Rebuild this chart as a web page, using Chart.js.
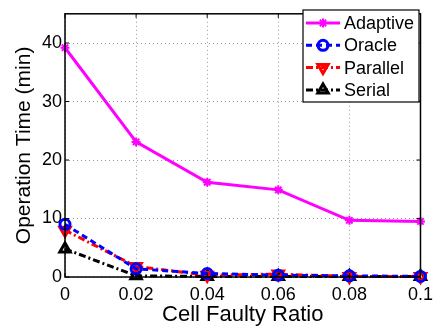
<!DOCTYPE html>
<html><head><meta charset="utf-8">
<script src="https://cdn.jsdelivr.net/npm/chart.js@4/dist/chart.umd.min.js"></script>
<style>html,body{margin:0;padding:0;background:#fff}#wrap{width:440px;height:328px}</style>
</head><body><div id="wrap"><canvas id="c" width="440" height="328"></canvas></div>
<script>
const ratios = [0, 0.02, 0.04, 0.06, 0.08, 0.1];
const adaptive = [39.2, 23.1, 16.2, 14.9, 9.7, 9.5];
const oracle = [9.0, 1.4, 0.6, 0.3, 0.2, 0.1];
const parallel = [8.0, 1.8, 0.3, 0.5, 0.1, 0.1];
const serial = [4.8, 0.2, 0.1, 0.1, 0.1, 0.1];
const seriesNames = ['Adaptive', 'Oracle', 'Parallel', 'Serial'];
const xTicks = [0, 0.02, 0.04, 0.06, 0.08, 0.1];
const yTicks = [0, 10, 20, 30, 40];

const FONT = '"Liberation Sans", Arial, Helvetica, sans-serif';
const pts = a => a.map((v, i) => ({x: ratios[i], y: v}));

const styles = [
  {color: '#ff00ff', dash: [], point: 'star', rot: 0, radius: 4.5, pw: 2},
  {color: '#0000ff', dash: [6, 4], point: 'circle', rot: 0, radius: 5, pw: 3},
  {color: '#ff0000', dash: [7, 3, 2, 3], point: 'triangle', rot: 180, radius: 6, pw: 3},
  {color: '#000000', dash: [7, 3, 2, 3], point: 'triangle', rot: 0, radius: 6, pw: 3}
];
const data = [adaptive, oracle, parallel, serial];

const datasets = data.map((d, i) => ({
  label: seriesNames[i],
  data: pts(d),
  borderColor: styles[i].color,
  backgroundColor: 'rgba(255,255,255,0)',
  borderWidth: 3,
  borderDash: styles[i].dash,
  pointStyle: styles[i].point,
  pointRotation: styles[i].rot,
  pointRadius: styles[i].radius,
  pointBorderWidth: styles[i].pw,
  pointBorderColor: styles[i].color,
  pointBackgroundColor: 'rgba(255,255,255,0)',
  tension: 0,
  clip: false,
  order: i
}));

const framePlugin = {
  id: 'frame',
  afterDatasetsDraw(chart) {
    const {ctx, chartArea: a, scales} = chart;
    ctx.save();
    ctx.strokeStyle = '#000';
    ctx.lineWidth = 1.5;
    ctx.setLineDash([]);
    ctx.strokeRect(a.left, a.top, a.right - a.left, a.bottom - a.top);
    ctx.lineWidth = 1;
    const tl = 4;
    xTicks.forEach(v => {
      const x = scales.x.getPixelForValue(v);
      ctx.beginPath();
      ctx.moveTo(x, a.bottom); ctx.lineTo(x, a.bottom - tl);
      ctx.moveTo(x, a.top); ctx.lineTo(x, a.top + tl);
      ctx.stroke();
    });
    yTicks.forEach(v => {
      const y = scales.y.getPixelForValue(v);
      ctx.beginPath();
      ctx.moveTo(a.left, y); ctx.lineTo(a.left + tl, y);
      ctx.moveTo(a.right, y); ctx.lineTo(a.right - tl, y);
      ctx.stroke();
    });
    // legend
    const lx = 303, ly = 10, lw = 116, lh = 92;
    ctx.fillStyle = '#fff';
    ctx.fillRect(lx, ly, lw, lh);
    ctx.strokeStyle = '#000';
    ctx.lineWidth = 1.2;
    ctx.strokeRect(lx, ly, lw, lh);
    ctx.font = '18px ' + FONT;
    ctx.textBaseline = 'middle';
    ctx.textAlign = 'left';
    seriesNames.forEach((n, i) => {
      const y = ly + 13 + i * 22.3;
      const s = styles[i];
      ctx.strokeStyle = s.color;
      ctx.lineWidth = 3;
      ctx.setLineDash(s.dash);
      ctx.beginPath();
      ctx.moveTo(lx + 3, y); ctx.lineTo(lx + 37, y);
      ctx.stroke();
      ctx.setLineDash([]);
      ctx.lineWidth = s.pw;
      ctx.fillStyle = 'rgba(255,255,255,0)';
      Chart.helpers.drawPoint(ctx, {pointStyle: s.point, rotation: s.rot, radius: s.radius, borderWidth: s.pw}, lx + 20, y);
      ctx.fillStyle = '#000';
      ctx.fillText(n, lx + 41, y + 1);
    });
    ctx.restore();
  }
};

new Chart(document.getElementById('c'), {
  type: 'line',
  data: {datasets},
  plugins: [framePlugin],
  options: {
    responsive: false,
    animation: false,
    layout: {padding: {top: 5, right: 15, left: 0, bottom: 0}},
    plugins: {legend: {display: false}, tooltip: {enabled: false}},
    scales: {
      x: {
        type: 'linear', min: 0, max: 0.1,
        afterBuildTicks: s => { s.ticks = xTicks.map(v => ({value: v})); },
        afterFit: s => { s.height = 51; },
        grid: {color: '#999', lineWidth: 1, drawTicks: false},
        border: {display: false, dash: [1, 3]},
        ticks: {color: '#000', font: {family: FONT, size: 18}, padding: 7, maxRotation: 0,
          callback: v => String(+v.toFixed(2))},
        title: {display: true, text: 'Cell Faulty Ratio', color: '#000', font: {family: FONT, size: 22}, padding: {top: 0, bottom: 0}}
      },
      y: {
        type: 'linear', min: 0, max: 45,
        afterBuildTicks: s => { s.ticks = yTicks.map(v => ({value: v})); },
        afterFit: s => { s.width = 65; },
        grid: {color: '#999', lineWidth: 1, drawTicks: false},
        border: {display: false, dash: [1, 3]},
        ticks: {color: '#000', font: {family: FONT, size: 18}, padding: 3},
        title: {display: true, text: 'Operation Time (min)', color: '#000', font: {family: FONT, size: 21}, padding: {top: 12, bottom: 0}}
      }
    }
  }
});
</script></body></html>
